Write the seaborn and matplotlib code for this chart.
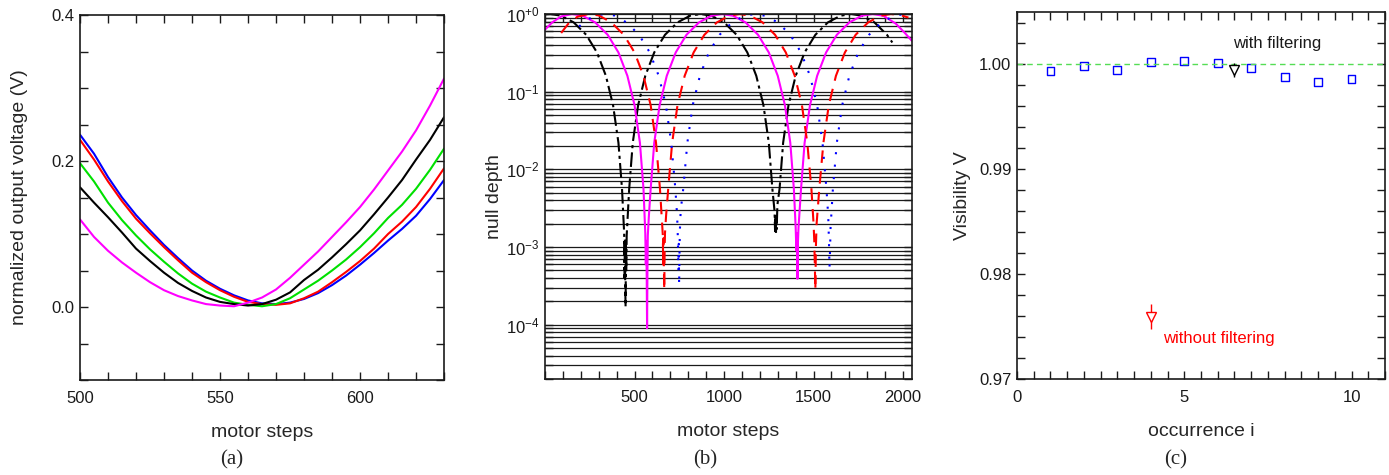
import matplotlib
matplotlib.use('Agg')
import numpy as np
import pandas as pd
import seaborn as sns
from matplotlib import pyplot as plt
from matplotlib.ticker import MultipleLocator, FixedLocator, LogLocator, NullFormatter

sns.set_theme(style="ticks")
plt.rcParams['font.family'] = ['Liberation Sans', 'DejaVu Sans']
plt.rcParams['mathtext.default'] = 'regular'

# ---- panel (a): output voltage near the null
steps_a = list(range(500, 631, 5))
volt_blue = [.236, .210, .178, .150, .126, .105, .085, .067, .050, .036, .025, .016, .009, .005,
             .004, .006, .011, .019, .030, .043, .058, .074, .091, .107, .125, .148, .174]
volt_red = [.229, .202, .172, .145, .121, .101, .082, .064, .047, .034, .023, .014, .007, .004,
            .003, .005, .012, .021, .034, .048, .063, .080, .100, .117, .137, .162, .190]
volt_green = [.197, .172, .143, .119, .098, .079, .062, .046, .032, .021, .013, .006, .003, .001,
              .004, .012, .024, .036, .050, .065, .082, .101, .122, .140, .162, .188, .217]
volt_black = [.164, .143, .123, .102, .080, .063, .047, .033, .022, .013, .007, .004, .002, .004,
              .010, .020, .037, .051, .068, .086, .105, .127, .150, .174, .202, .229, .260]
volt_magenta = [.120, .096, .077, .061, .047, .034, .023, .015, .009, .004, .002, .001, .006, .013,
                .024, .040, .058, .076, .096, .116, .137, .161, .187, .213, .242, .276, .313]

# ---- panel (b): null depth vs motor steps
x_black = [0, 30, 90, 160, 230, 290, 340, 380, 410, 430, 442, 444, 446, 448, 450, 452, 454, 456,
           470, 490, 520, 560, 610, 670, 740, 810, 870, 930, 1000, 1070, 1130, 1180, 1220, 1250,
           1270, 1282, 1285, 1287, 1290, 1292, 1294, 1298, 1310, 1330, 1360, 1400, 1450, 1510,
           1580, 1650, 1710, 1770, 1840, 1910, 1940]
y_black = [0.99, 1.0, 0.95, 0.78, 0.54, 0.32, 0.16, 0.067, 0.022, 0.0056, 0.0015, 4e-4, 1.3e-3,
           3e-4, 1.7e-4, 1.1e-3, 5e-4, 1.4e-3, 0.0056, 0.022, 0.067, 0.16, 0.32, 0.54, 0.78, 0.95,
           1.0, 0.95, 0.78, 0.54, 0.32, 0.16, 0.067, 0.022, 0.0056, 0.0029, 1.6e-3, 2.6e-3, 1.5e-3,
           2.4e-3, 1.7e-3, 0.0035, 0.0056, 0.022, 0.067, 0.16, 0.32, 0.54, 0.78, 0.95, 1.0, 0.95,
           0.78, 0.54, 0.43]
x_magenta = [0, 40, 90, 150, 210, 280, 350, 410, 460, 500, 530, 550, 560, 563, 566, 568, 570, 572,
             574, 580, 590, 610, 640, 680, 730, 790, 860, 930, 990, 1050, 1120, 1190, 1250, 1300,
             1340, 1370, 1390, 1400, 1404, 1407, 1410, 1413, 1416, 1430, 1450, 1480, 1520, 1570,
             1630, 1700, 1770, 1830, 1890, 1960, 2010, 2050]
y_magenta = [0.63, 0.78, 0.93, 1.0, 0.95, 0.78, 0.54, 0.32, 0.16, 0.067, 0.022, 0.0056, 0.0015,
             6e-4, 1.2e-3, 4e-4, 9e-5, 5e-4, 1.4e-3, 0.0025, 0.0056, 0.022, 0.067, 0.16, 0.32, 0.54,
             0.78, 0.95, 1.0, 0.95, 0.78, 0.54, 0.32, 0.16, 0.067, 0.022, 0.0056, 0.0018, 9e-4,
             1.5e-3, 3.9e-4, 1.2e-3, 1.8e-3, 0.0056, 0.022, 0.067, 0.16, 0.32, 0.54, 0.78, 0.95,
             1.0, 0.95, 0.75, 0.57, 0.45]
x_red = [90, 130, 180, 243, 300, 370, 440, 500, 550, 590, 620, 642, 654, 658, 660, 662, 664, 666,
         668, 670, 676, 688, 710, 740, 780, 830, 890, 960, 1030, 1087, 1145, 1215, 1285, 1345,
         1395, 1435, 1465, 1488, 1500, 1504, 1507, 1510, 1513, 1517, 1532, 1555, 1585, 1625, 1675,
         1735, 1805, 1875, 1932, 1990, 2030]
y_red = [0.57, 0.75, 0.92, 1.0, 0.96, 0.78, 0.54, 0.32, 0.16, 0.067, 0.022, 0.0056, 0.002, 1.4e-3,
         6e-4, 1.3e-3, 5e-4, 2.8e-4, 9e-4, 1.5e-3, 0.0025, 0.0056, 0.022, 0.067, 0.16, 0.32, 0.54,
         0.78, 0.95, 1.0, 0.95, 0.78, 0.54, 0.32, 0.16, 0.067, 0.022, 0.0056, 0.002, 1.2e-3, 6e-4,
         2.8e-4, 1e-3, 0.002, 0.0056, 0.022, 0.067, 0.16, 0.32, 0.54, 0.78, 0.95, 1.0, 0.96, 0.9]
x_blue = [190, 240, 290, 330, 385, 455, 525, 585, 635, 675, 705, 728, 738, 742, 745, 747, 749, 751,
          753, 758, 772, 795, 825, 865, 915, 975, 1045, 1115, 1170, 1230, 1300, 1370, 1430, 1480,
          1520, 1550, 1572, 1582, 1586, 1589, 1592, 1595, 1608, 1630, 1660, 1700, 1750, 1810, 1880,
          1950, 2010]
y_blue = [0.69, 0.86, 0.96, 1.0, 0.96, 0.78, 0.54, 0.32, 0.16, 0.067, 0.022, 0.0056, 0.0025,
          1.3e-3, 5e-4, 1.1e-3, 3.2e-4, 8e-4, 1.6e-3, 0.003, 0.0056, 0.022, 0.067, 0.16, 0.32, 0.54,
          0.78, 0.95, 1.0, 0.95, 0.78, 0.54, 0.32, 0.16, 0.067, 0.022, 0.0056, 0.0025, 1.2e-3,
          5.4e-4, 9e-4, 1.8e-3, 0.0056, 0.022, 0.067, 0.16, 0.32, 0.54, 0.78, 0.95, 1.0]

# ---- panel (c): visibility per occurrence
occurrence = [1, 2, 3, 4, 5, 6, 7, 8, 9, 10]
visibility = [0.99939, 0.99984, 0.99946, 1.00022, 1.00035, 1.00016, 0.99968, 0.99882, 0.99834, 0.99863]
with_filt = (6.5, 0.99946, 1.00016, 0.99882)
without_filt = (4.0, 0.97594, 0.97716, 0.97476)

fig = plt.figure(figsize=(13.89, 4.75), dpi=100)
ax_a = fig.add_axes([0.0576, 0.2, 0.2621, 0.7684])
ax_b = fig.add_axes([0.3924, 0.2021, 0.2642, 0.7684])
ax_c = fig.add_axes([0.7322, 0.2021, 0.2649, 0.7726])


def style_axes(ax):
    ax.tick_params(which='both', direction='in', top=True, right=True, length=6, width=1,
                   labelsize=12, colors='k')
    ax.tick_params(axis='x', which='both', pad=8)
    ax.tick_params(axis='y', which='both', pad=4)
    for s in ax.spines.values():
        s.set_linewidth(1.2)
        s.set_color('k')


# (a)
for vals, col in [(volt_blue, 'blue'), (volt_red, 'red'), (volt_green, '#00e000'),
                  (volt_black, 'black'), (volt_magenta, 'magenta')]:
    sns.lineplot(x=steps_a, y=vals, ax=ax_a, color=col, lw=1.5, errorbar=None)
ax_a.set_xlim(500, 630)
ax_a.set_ylim(-0.1, 0.4)
ax_a.xaxis.set_major_locator(MultipleLocator(50))
ax_a.xaxis.set_minor_locator(MultipleLocator(10))
ax_a.yaxis.set_major_locator(MultipleLocator(0.2))
ax_a.yaxis.set_minor_locator(MultipleLocator(0.05))
ax_a.set_xlabel('motor steps', fontsize=14, labelpad=13)
ax_a.set_ylabel('normalized output voltage (V)', fontsize=14, labelpad=17)
style_axes(ax_a)

# (b)
ax_b.set_yscale('log')
for xs, ys, col, ls in [(x_black, y_black, 'black', (0, (7, 2, 1.5, 2))),
                        (x_magenta, y_magenta, 'magenta', '-'),
                        (x_red, y_red, 'red', (0, (6, 4))),
                        (x_blue, y_blue, 'blue', (0, (1, 5)))]:
    sns.lineplot(x=xs, y=ys, ax=ax_b, color=col, lw=1.5, linestyle=ls, errorbar=None)
ax_b.set_xlim(0, 2050)
ax_b.set_ylim(2e-5, 1.0)
ax_b.xaxis.set_major_locator(FixedLocator([500, 1000, 1500, 2000]))
ax_b.xaxis.set_minor_locator(MultipleLocator(100))
ax_b.yaxis.set_major_locator(FixedLocator([1e-4, 1e-3, 1e-2, 1e-1, 1.0]))
ax_b.set_yticklabels([r'$10^{-4}$', r'$10^{-3}$', r'$10^{-2}$', r'$10^{-1}$', r'$10^{+0}$'])
ax_b.yaxis.set_minor_locator(LogLocator(base=10, subs=np.arange(2, 10)))
ax_b.yaxis.set_minor_formatter(NullFormatter())
ax_b.grid(True, which='both', axis='y', color='k', lw=0.9)
ax_b.set_xlabel('motor steps', fontsize=14, labelpad=13)
ax_b.set_ylabel('null depth', fontsize=14, labelpad=2)
style_axes(ax_b)

# (c)
ax_c.axhline(1.0, color='#55dd55', lw=1.0, ls=(0, (4, 3)))
sns.scatterplot(x=occurrence, y=visibility, ax=ax_c, marker='s', s=32,
                facecolor='none', edgecolor='blue', linewidth=1.0)
for (xv, yv, hi, lo), col in [(with_filt, 'black'), (without_filt, 'red')]:
    ax_c.vlines(xv, lo, hi, color=col, lw=1.0)
    ax_c.plot([xv], [yv], marker='v', ms=7, mfc='white', mec=col, mew=1.0, ls='none')
ax_c.text(6.46, 1.0020, 'with filtering', fontsize=12, color='k', va='center', ha='left')
ax_c.text(4.36, 0.97389, 'without filtering', fontsize=12, color='red', va='center', ha='left')
ax_c.set_xlim(0, 11)
ax_c.set_ylim(0.97, 1.005)
ax_c.xaxis.set_major_locator(MultipleLocator(5))
ax_c.xaxis.set_minor_locator(MultipleLocator(0.5))
ax_c.yaxis.set_major_locator(MultipleLocator(0.01))
ax_c.yaxis.set_minor_locator(MultipleLocator(0.002))
ax_c.set_xlabel('occurrence i', fontsize=14, labelpad=13)
ax_c.set_ylabel('Visibility V', fontsize=14, labelpad=6)
style_axes(ax_c)

for xc, lab in [(232, '(a)'), (705, '(b)'), (1176, '(c)')]:
    fig.text(xc / 1389, 1 - 460 / 475, lab, ha='center', va='center', fontsize=15,
             family=['Liberation Serif', 'DejaVu Serif'])

fig.savefig('out.png', dpi=100)
